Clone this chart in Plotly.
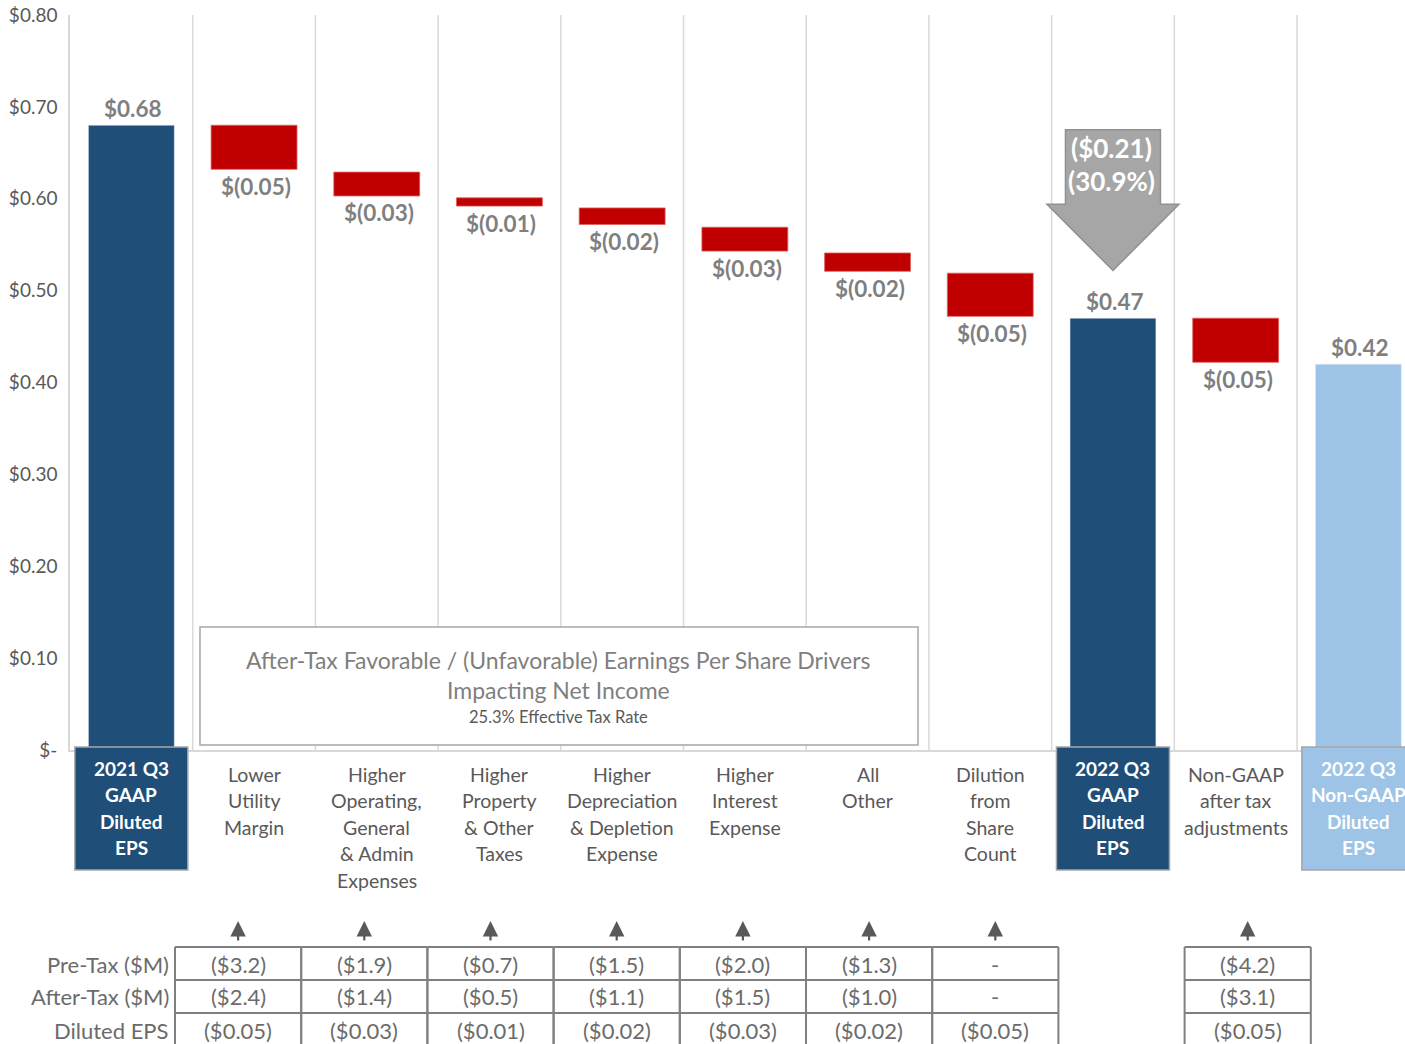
import plotly.graph_objects as go

# ---------------- data ----------------
categories = ["2021 Q3 GAAP Diluted EPS", "Lower Utility Margin",
              "Higher Operating, General & Admin Expenses", "Higher Property & Other Taxes",
              "Higher Depreciation & Depletion Expense", "Higher Interest Expense", "All Other",
              "Dilution from Share Count", "2022 Q3 GAAP Diluted EPS",
              "Non-GAAP after tax adjustments", "2022 Q3 Non-GAAP Diluted EPS"]
cat_lines = [
    ["2021 Q3", "GAAP", "Diluted", "EPS"],
    ["Lower", "Utility", "Margin"],
    ["Higher", "Operating,", "General", "& Admin", "Expenses"],
    ["Higher", "Property", "& Other", "Taxes"],
    ["Higher", "Depreciation", "& Depletion", "Expense"],
    ["Higher", "Interest", "Expense"],
    ["All", "Other"],
    ["Dilution", "from", "Share", "Count"],
    ["2022 Q3", "GAAP", "Diluted", "EPS"],
    ["Non-GAAP", "after tax", "adjustments"],
    ["2022 Q3", "Non-GAAP", "Diluted", "EPS"],
]
start_eps = 0.68
driver_tops = [0.680, 0.629, 0.601, 0.590, 0.569, 0.541, 0.519]
driver_deltas = [-0.048, -0.026, -0.009, -0.018, -0.026, -0.020, -0.047]
gaap_eps_2022 = 0.47
adj_top = 0.470
adj_delta = -0.048
nongaap_eps_2022 = 0.42

y_tickvals = [0, 0.1, 0.2, 0.3, 0.4, 0.5, 0.6, 0.7, 0.8]
y_ticktext = ["$-", "$0.10", "$0.20", "$0.30", "$0.40", "$0.50", "$0.60", "$0.70", "$0.80"]

table_rows = ["Pre-Tax ($M)", "After-Tax ($M)", "Diluted EPS"]
table_pretax = ["($3.2)", "($1.9)", "($0.7)", "($1.5)", "($2.0)", "($1.3)", "-", None, "($4.2)"]
table_aftertax = ["($2.4)", "($1.4)", "($0.5)", "($1.1)", "($1.5)", "($1.0)", "-", None, "($3.1)"]
table_eps = ["($0.05)", "($0.03)", "($0.01)", "($0.02)", "($0.03)", "($0.02)", "($0.05)", None, "($0.05)"]

box_text = ["After-Tax Favorable / (Unfavorable) Earnings Per Share Drivers",
            "Impacting Net Income", "25.3% Effective Tax Rate"]

# ---------------- styles / layout ----------------
FONT = "Lato"
DARK = "#1f4e79"
RED = "#c00000"
LIGHT = "#9dc3e6"
GRID = "#d9d9d9"
GRAYTXT = "#595959"
LBLTXT = "#7f7f7f"

W, H = 1405, 1044
PL, PR, PT, PB = 70, 1405, 15, 750
X0, X1 = -0.5, 10.38


def fx(px):
    return (px - PL) / (PR - PL)


def fy(py):
    return (PB - py) / (PB - PT)


def cat_px(i):
    return PL + (i - X0) / (X1 - X0) * (PR - PL)


n = len(categories)

fig = go.Figure()

# total bars
fig.add_trace(go.Bar(x=[0, 8], y=[start_eps, gaap_eps_2022], marker_color=DARK,
                     width=0.7, showlegend=False, hoverinfo="skip"))
fig.add_trace(go.Bar(x=[10], y=[nongaap_eps_2022], marker_color=LIGHT,
                     width=0.7, showlegend=False, hoverinfo="skip"))
# red drivers
red_x = list(range(1, 8)) + [9]
red_tops = driver_tops + [adj_top]
red_deltas = driver_deltas + [adj_delta]
red_bases = [t + d for t, d in zip(red_tops, red_deltas)]
fig.add_trace(go.Bar(x=red_x, y=[-d for d in red_deltas], base=red_bases, marker_color=RED,
                     marker_line=dict(color="#e06060", width=0.8),
                     width=0.7, showlegend=False, hoverinfo="skip"))

shapes = []
ann = []

# vertical gridlines between categories
for k in range(n - 1):
    shapes.append(dict(type="line", xref="x", yref="y", x0=k + 0.5, x1=k + 0.5, y0=0, y1=0.8,
                       line=dict(color=GRID, width=1.5), layer="below"))

# value labels
for xv, v in [(0, start_eps), (8, gaap_eps_2022), (10, nongaap_eps_2022)]:
    ann.append(dict(x=xv, y=v, xref="x", yref="y", text=f"${v:.2f}", showarrow=False,
                    yanchor="middle", yshift=17, xshift=2,
                    font=dict(family=FONT, size=22.5, color=LBLTXT, weight="bold")))
for xv, b, d in zip(red_x, red_bases, red_deltas):
    ann.append(dict(x=xv, y=b, xref="x", yref="y", text=f"$({abs(d):.2f})", showarrow=False,
                    yanchor="middle", yshift=-17, xshift=2,
                    font=dict(family=FONT, size=22.5, color=LBLTXT, weight="bold")))

# category labels
boxed = {0: DARK, 8: DARK, 10: LIGHT}
for i, lines in enumerate(cat_lines):
    cx = cat_px(i)
    if i in boxed:
        shapes.append(dict(type="rect", xref="paper", yref="paper",
                           x0=fx(cx - 56.5), x1=fx(cx + 56.5), y0=fy(870), y1=fy(747),
                           fillcolor=boxed[i], line=dict(color="#a6a6a6", width=1.5),
                           layer="above"))
        y_first = 768
        col = "white"
        wt = "bold"
        sz = 19
    else:
        y_first = 774
        col = GRAYTXT
        wt = "normal"
        sz = 19.5
    for j, t in enumerate(lines):
        ann.append(dict(x=fx(cx), y=fy(y_first + 26.5 * j), xref="paper", yref="paper",
                        text=t, showarrow=False, xanchor="center", yanchor="middle",
                        font=dict(family=FONT, size=sz, color=col, weight=wt)))

# text box
shapes.append(dict(type="rect", xref="paper", yref="paper", x0=fx(200), x1=fx(918),
                   y0=fy(745), y1=fy(627), fillcolor="white",
                   line=dict(color="#a6a6a6", width=1.5), layer="above"))
for t, py, sz, c in [(box_text[0], 660, 23, LBLTXT), (box_text[1], 690, 23, LBLTXT),
                     (box_text[2], 717, 16.5, GRAYTXT)]:
    ann.append(dict(x=fx(558), y=fy(py), xref="paper", yref="paper", text=t, showarrow=False,
                    xanchor="center", yanchor="middle", font=dict(family=FONT, size=sz, color=c)))

# gray down arrow with total change
chg = gaap_eps_2022 - start_eps
pct = chg / start_eps * 100
ac, bw, hw = 8, 0.387, 0.538
ytop, yneck, ytip = 0.675, 0.594, 0.522
path = (f"M {ac-bw},{ytop} L {ac+bw},{ytop} L {ac+bw},{yneck} L {ac+hw},{yneck} "
        f"L {ac},{ytip} L {ac-hw},{yneck} L {ac-bw},{yneck} Z")
shapes.append(dict(type="path", xref="x", yref="y", path=path, fillcolor="#a6a6a6",
                   line=dict(color="#909090", width=1.5), layer="above"))
for t, py in [(f"(${abs(chg):.2f})", 148), (f"({abs(pct):.1f}%)", 181)]:
    ann.append(dict(x=fx(1111), y=fy(py), xref="paper", yref="paper", text=t, showarrow=False,
                    xanchor="center", yanchor="middle",
                    font=dict(family=FONT, size=26, color="white", weight="bold")))

# bottom table
T_L, T_W = 175, 126.2
row_y = [947, 980, 1013, 1046]
tcols = [table_pretax, table_aftertax, table_eps]
ncol = len(table_pretax)
LINE = dict(color="#808080", width=2)
for c in range(ncol):
    if table_pretax[c] is None:
        continue
    xl, xr = T_L + c * T_W, T_L + (c + 1) * T_W
    for r in row_y:
        shapes.append(dict(type="line", xref="paper", yref="paper", x0=fx(xl), x1=fx(xr),
                           y0=fy(r), y1=fy(r), line=LINE))
    for xv in (xl, xr):
        shapes.append(dict(type="line", xref="paper", yref="paper", x0=fx(xv), x1=fx(xv),
                           y0=fy(row_y[0]), y1=fy(row_y[-1]), line=LINE))
    cxp = (xl + xr) / 2
    # small up-pointing arrow above each table column
    ann.append(dict(x=fx(cxp), y=fy(921), xref="paper", yref="paper", text="",
                    showarrow=True, ax=0, ay=21, axref="pixel", ayref="pixel",
                    arrowhead=2, arrowsize=1.4, arrowwidth=2.2, arrowcolor=GRAYTXT,
                    standoff=0, startstandoff=0))
    for r, vals in enumerate(tcols):
        ann.append(dict(x=fx(cxp), y=fy(row_y[r] + 17), xref="paper", yref="paper",
                        text=vals[c], showarrow=False, xanchor="center", yanchor="middle",
                        font=dict(family=FONT, size=22, color="#6b6b6b")))
for r, lab in enumerate(table_rows):
    ann.append(dict(x=fx(171), y=fy(row_y[r] + 17), xref="paper", yref="paper", text=lab,
                    showarrow=False, xanchor="right", yanchor="middle",
                    font=dict(family=FONT, size=22, color="#6b6b6b")))

fig.update_layout(
    width=W, height=H,
    margin=dict(l=PL, r=W - PR, t=PT, b=H - PB, pad=0),
    paper_bgcolor="white", plot_bgcolor="white",
    barmode="overlay", bargap=0.3,
    showlegend=False,
    shapes=shapes, annotations=ann,
    xaxis=dict(range=[X0, X1], showticklabels=False, showgrid=False, zeroline=False,
               showline=True, linecolor=GRID, linewidth=1.5, ticks="", fixedrange=True),
    yaxis=dict(range=[0, 0.8], tickvals=y_tickvals, ticktext=y_ticktext, showgrid=False,
               zeroline=False, showline=True, linecolor=GRID, linewidth=1.5, ticks="",
               ticklabelstandoff=7,
               tickfont=dict(family=FONT, size=19, color=GRAYTXT)),
)

fig.write_html("out.html")
